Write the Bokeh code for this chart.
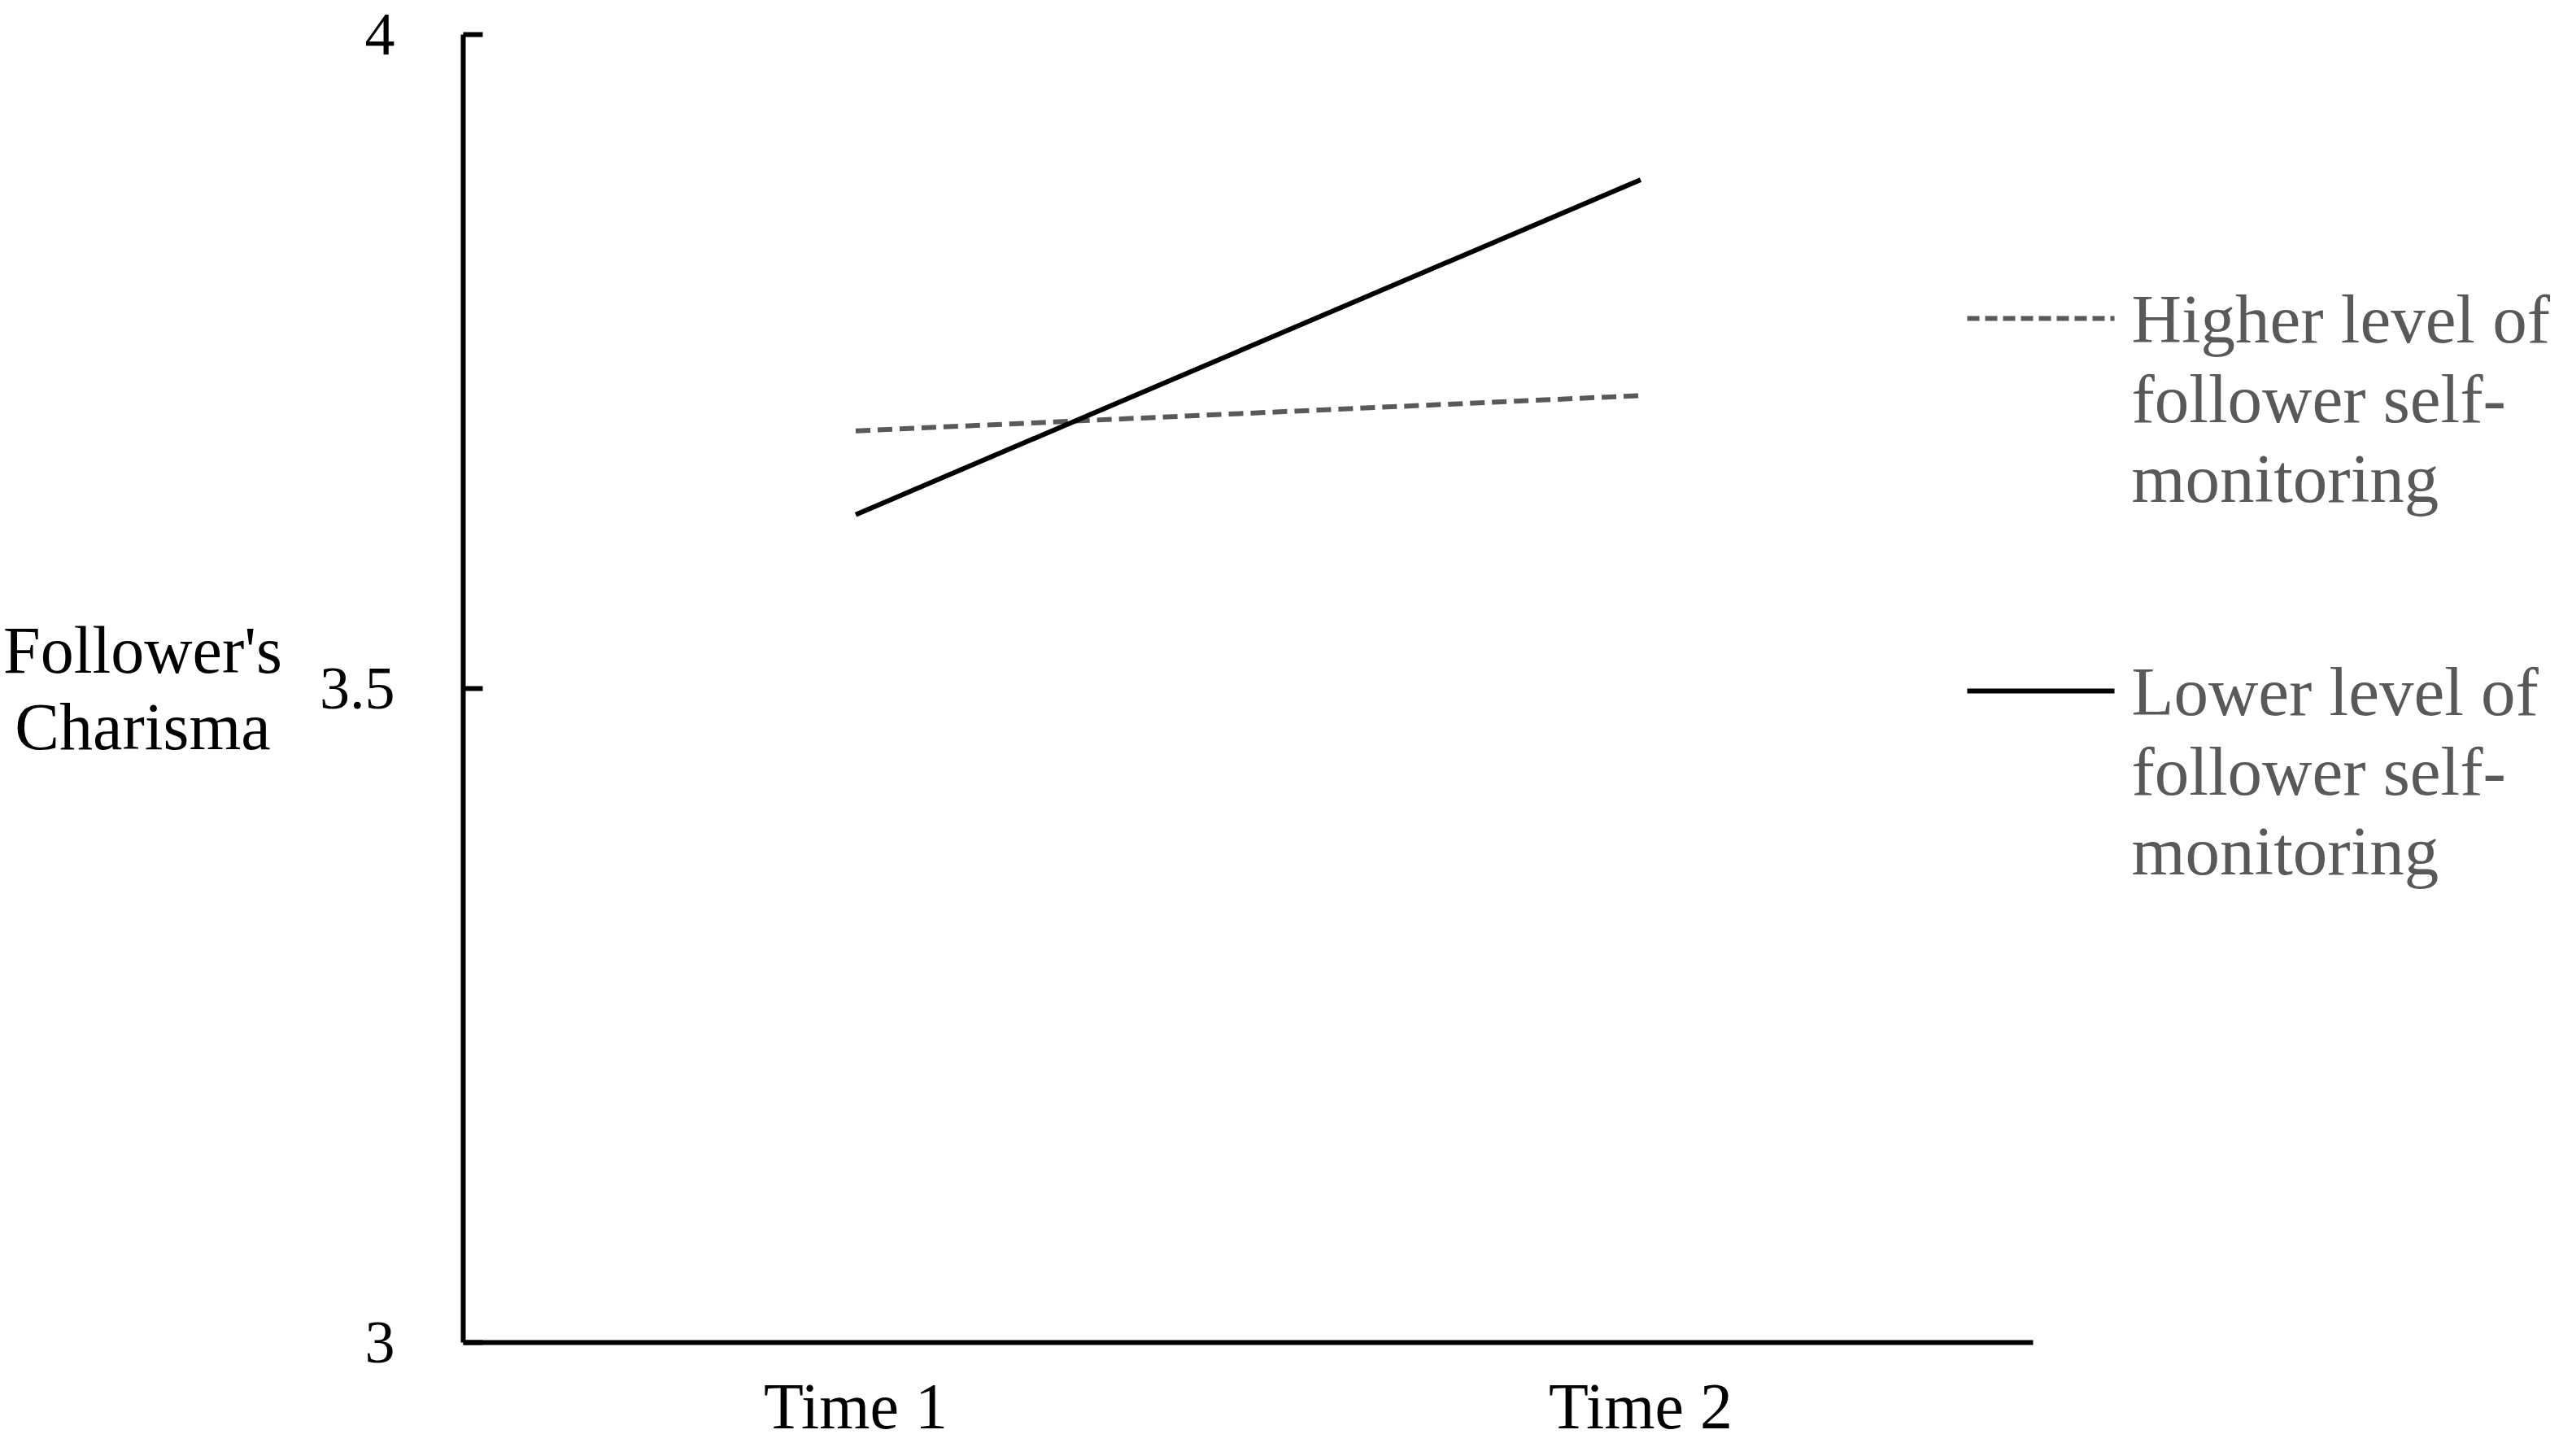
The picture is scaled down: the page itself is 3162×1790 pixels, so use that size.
from bokeh.plotting import figure
from bokeh.models import Range1d, FixedTicker, Label, Arrow, LinearAxis
from bokeh.embed import file_html
from bokeh.resources import INLINE

# ---- data ----
times = ["Time 1", "Time 2"]
higher_sm = [3.697, 3.724]   # Higher level of follower self-monitoring
lower_sm = [3.633, 3.889]    # Lower level of follower self-monitoring
y_ticks = [3, 3.5, 4]
y_tick_labels = ["3", "3.5", "4"]
legend_higher = ["Higher level of", "follower self-", "monitoring"]
legend_lower = ["Lower level of", "follower self-", "monitoring"]
y_title = ["Follower's", "Charisma"]

FONT = "Liberation Serif"
GRAY = "#595959"

W, H = 3146, 1774
# canvas pixel geometry of the plotting area (frame spans the whole canvas)
X0_PX, X_UNIT = 569, 965.0          # data x=0 at canvas px 569, 965 px per category
Y4_PX, Y3_PX = 42, 1650             # data y=4 / y=3 canvas rows
Y_UNIT = float(Y3_PX - Y4_PX)

def dx(px):
    return (px - X0_PX) / X_UNIT

def dy(py):
    return 4 - (py - Y4_PX) / Y_UNIT

x_pos = [i + 0.5 for i in range(len(times))]
y_lo, y_hi = min(y_ticks), max(y_ticks)

p = figure(width=W, height=H,
           x_range=Range1d(dx(0), dx(W)), y_range=Range1d(dy(H), dy(0)),
           x_axis_type=None, y_axis_type=None,
           output_backend="svg", toolbar_location=None,
           min_border=0, min_border_left=0, min_border_right=0,
           min_border_top=0, min_border_bottom=0,
           outline_line_color=None, background_fill_color="white",
           border_fill_color="white")

p.line(x_pos, higher_sm, line_color=GRAY, line_width=6, line_dash="18 9")
p.line(x_pos, lower_sm, line_color="black", line_width=6)

# y axis at x = 0
ya = LinearAxis(fixed_location=0, bounds=(y_lo, y_hi))
ya.ticker = FixedTicker(ticks=y_ticks)
ya.major_label_overrides = {t: l for t, l in zip(y_ticks, y_tick_labels)}
ya.major_tick_in = 24
ya.major_tick_out = 0
ya.minor_tick_in = 0
ya.minor_tick_out = 0
ya.major_tick_line_width = 6
ya.major_tick_line_color = "black"
ya.axis_line_width = 6
ya.axis_line_color = "black"
ya.major_label_standoff = 84
ya.major_label_text_font = FONT
ya.major_label_text_font_size = "74px"
ya.major_label_text_color = "black"
p.add_layout(ya, "left")

# x axis at y = 3
xa = LinearAxis(fixed_location=y_lo, bounds=(0, len(times)))
xa.ticker = FixedTicker(ticks=x_pos)
xa.major_label_overrides = {x: t for x, t in zip(x_pos, times)}
xa.axis_line_width = 6
xa.axis_line_color = "black"
xa.major_tick_in = 0
xa.major_tick_out = 0
xa.minor_tick_in = 0
xa.minor_tick_out = 0
xa.major_label_standoff = 34
xa.major_label_text_font = FONT
xa.major_label_text_font_size = "80px"
xa.major_label_text_color = "black"
p.add_layout(xa, "below")

# y title (horizontal, two lines)
for i, t in enumerate(y_title):
    p.add_layout(Label(x=dx(175), y=dy(799 + i * 94), text=t,
                       text_font=FONT, text_font_size="82px", text_color="black",
                       text_align="center", text_baseline="middle"))

# legend
def legend_entry(lines, py, color, dash):
    p.add_layout(Arrow(x_start=dx(2418), y_start=dy(py), x_end=dx(2599), y_end=dy(py),
                       end=None, line_color=color, line_width=6, line_dash=dash))
    for i, t in enumerate(lines):
        p.add_layout(Label(x=dx(2620), y=dy(py + i * 98), text=t,
                           text_font=FONT, text_font_size="85px", text_color=GRAY,
                           text_align="left", text_baseline="middle"))

legend_entry(legend_higher, 391, GRAY, "15 7")
legend_entry(legend_lower, 849, "black", "solid")

open("out.html", "w").write(file_html(p, INLINE))
